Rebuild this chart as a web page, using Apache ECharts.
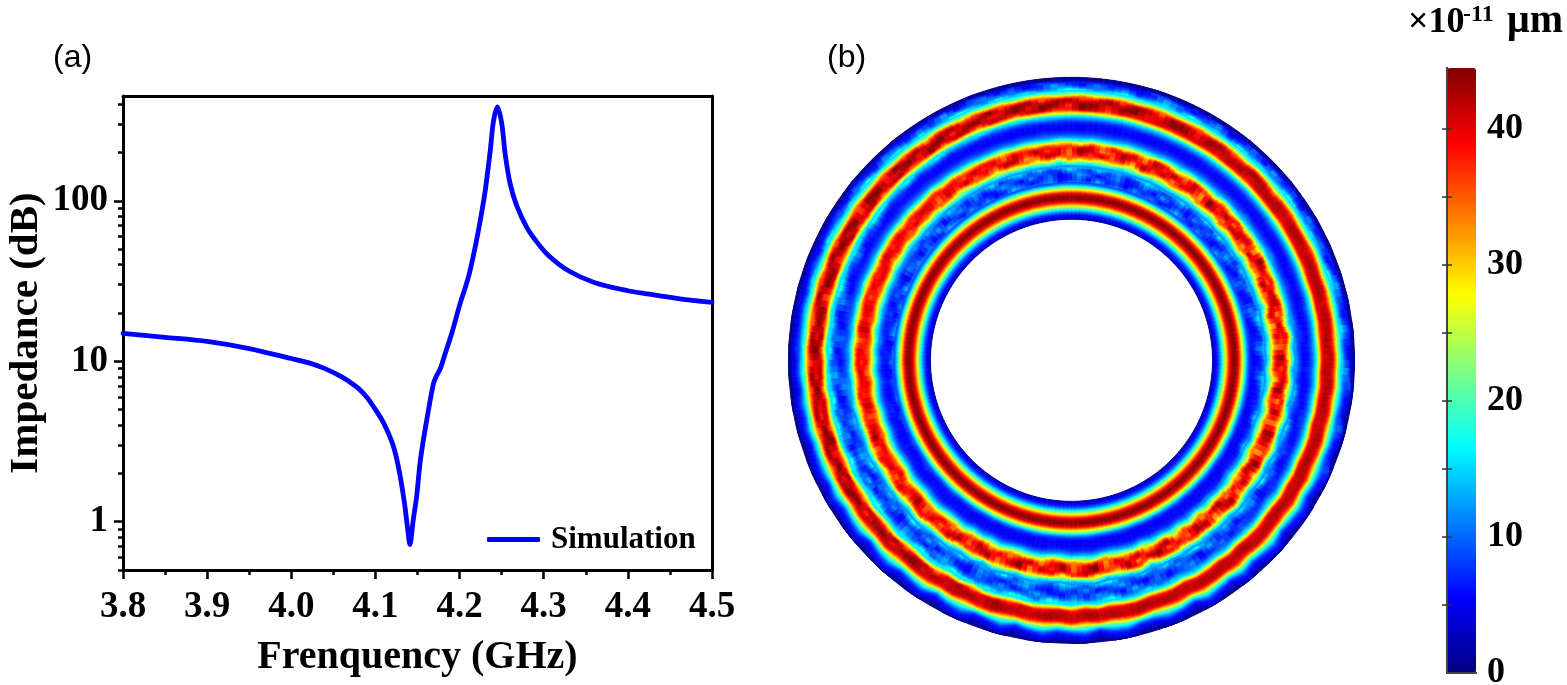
<!DOCTYPE html>
<html><head><meta charset="utf-8"><style>html,body{margin:0;padding:0;background:#fff}#c{width:1567px;height:685px}</style>
<script src="https://cdn.jsdelivr.net/npm/echarts@6/dist/echarts.min.js"></script></head>
<body><div id="c"></div><script>
// ---- panel (a): impedance curve
const frequency = [3.8,3.85,3.9,3.95,4.0,4.02,4.04,4.06,4.07,4.08,4.09,4.1,4.11,4.12,4.125,4.13,4.135,4.138,4.141,4.145,4.149,4.153,4.157,4.163,4.169,4.173,4.177,4.183,4.191,4.2005,4.2105,4.2185,4.2245,4.2304,4.2364,4.2403,4.2451,4.2503,4.2542,4.2602,4.268,4.28,4.29,4.305,4.33,4.36,4.4,4.4226,4.462,4.5];
const impedance = [14.9,14.1,13.3,12.0,10.4,9.8,9.0,8.0,7.4,6.75,5.95,5.0,4.1,3.1,2.5,1.85,1.25,0.93,0.72,1.03,1.44,2.32,3.23,4.96,7.26,8.2,8.95,11.2,15.1,22.8,33.4,51.4,75,115,204,314,385,299,195,127,93,68,57,46,36.5,31,27.5,26.3,24.5,23.3];
const yMajor = [1,10,100];
const yMinor = [0.5,0.6,0.7,0.8,0.9,2,3,4,5,6,7,8,9,20,30,40,50,60,70,80,90,200,300,400];
const xTicks = [3.8,3.9,4.0,4.1,4.2,4.3,4.4,4.5];
// ---- panel (b): displacement ring, radial profile from the inner edge outwards, one radius unit apart
const ringInner = 141;
const ringValue = [1.5,2.5,3.5,4.5,5.5,6.7,8,10,12,14.5,17,20,23,26,29,32,35,38,40,41.5,43,43.8,44.2,43.8,43,41.5,40,37.5,34,31,28,25,22,18.5,15,12.5,10,8.5,7,6.2,5.5,5.2,5,5,5,5.2,5.5,5.8,6,6.7,7.5,8.7,10,11.5,13,15,17,20,23,26,28.5,31,33.5,35.5,37,38,38.5,39,39,39,39,39,38.5,37.5,36,33.5,31,28,24.5,20.5,17,15,13,11.5,10,9,8,7.2,6.5,6,5.5,5.2,5,5.2,5.5,5.7,6,6.7,7.5,8.7,10,11.5,13,15,17,21.5,26,29,32,36,39,40,40.8,41.5,41.8,42,42,42,41.8,41.2,40.2,38.5,36,33,30,26,22,19.5,17,14.5,12,10,8,7,6,5.2,4.5,3.7,3,2.2,1.5,1,0.5];
// per-3-degree-sector readings, counter-clockwise from east
const midShift = [.6,-.6,.9,0,-.6,.6,-.3,.3,-.6,.3,.6,-.3,0,.6,-.3,.3,0,-.3,.3,.3,-.3,0,.3,-.3,0,.3,0,-.3,.3,0,0,.3,-.3,0,.3,-.3,.3,0,-.3,.3,0,.3,-.3,.3,0,-.3,.3,-.3,.3,.6,-.3,.3,-.6,.3,0,.6,-.3,.3,-.6,.6,
 -.6,.6,-.9,.3,.9,-.6,.3,-.6,.6,.9,-.6,-.9,.6,.3,-.9,.6,1.2,-.6,-.3,.9,-.9,.6,-.6,1.2,-.3,-.9,.6,.9,-.6,-1.2,.6,.3,1.2,-.6,-.9,.3,.9,-1.2,.6,-.3,.9,-.6,1.2,-.9,.3,-.6,.9,.6,-1.2,.3,.6,-.9,1.2,-.3,-.6,.9,-.6,.3,.6,-.9];
const outerShift = [.3,0,-.3,.3,0,.3,-.3,0,.3,0,0,.3,0,-.3,0,.3,0,0,0,.3,0,0,-.3,0,0,0,.3,0,0,0,0,-.3,0,0,0,.3,0,0,0,0,.3,0,-.3,0,0,.3,0,0,.3,-.3,0,.3,0,-.3,.3,0,.3,-.3,0,.3,
 -.3,.3,0,-.6,.3,.6,-.3,.3,-.6,.6,0,-.6,.6,.3,-.6,.9,-.3,-.6,.6,.9,-.6,.3,-.9,.6,.9,-.3,-.9,.6,.3,-.6,.9,-.6,.6,-.9,.3,.9,-.6,-.3,.6,-.9,.9,.3,-.6,.6,-.9,.3,.6,-.3,-.6,.9,-.3,.6,-.6,.3,.6,-.6,.3,-.3,.6,-.3];
const edgeShift = [1,0,1.5,-.5,1,0,.5,-.5,.5,0,.5,0,0,.5,0,0,0,.5,0,0,0,0,0,0,.5,0,0,0,0,0,0,0,0,0,0,0,0,.5,0,0,0,0,0,.5,0,0,0,.5,0,0,.5,0,0,.5,0,.5,0,.5,0,.5,
 0,1,-.5,1,0,1.5,-1,.5,1.5,-.5,2,-1,1,2.5,-1.5,1,3,-1,.5,2.5,-2,1.5,3,-1.5,0,3,-2,1,3,-1.5,.5,2.5,-2,2,3,-1,-1,2.5,1,-2,3,.5,-1.5,2.5,-1,1,3,-1.5,.5,2,-1,1.5,2,-1,1,1.5,-1,1,1.5,0];
const midGain = [3,-4.5,1.5,4.5,-3,-6,3,6,-4.5,1.5,-3,4.5,-1.5,3,-4.5,1.5,-1.5,3,-3,0,1.5,-3,1.5,3,-1.5,0,1.5,-1.5,3,0,-1.5,1.5,-3,1.5,0,3,-3,1.5,-1.5,3,0,-1.5,3,-3,1.5,4.5,-3,0,3,-4.5,1.5,-1.5,4.5,-3,3,-4.5,1.5,4.5,-4.5,1.5,
 4.5,-4.5,1.5,6,-6,3,-1.5,4.5,-4.5,1.5,6,-4.5,-1.5,4.5,-6,3,6,-4.5,1.5,-4.5,4.5,3,-6,1.5,4.5,-4.5,3,-1.5,6,-6,1.5,4.5,-4.5,3,-6,4.5,1.5,-3,6,-4.5,-1.5,4.5,-6,3,4.5,-4.5,1.5,6,-6,1.5,3,-4.5,4.5,-1.5,6,-6,3,-3,4.5,-1.5];
const outerGain = [1,-1,0,1,-1,1,0,-1,0,1,0,-1,1,0,0,-1,1,0,0,0,-1,1,0,0,0,1,-1,0,0,1,0,-1,0,1,0,0,-1,0,1,0,0,-1,1,0,0,-1,1,0,1,-1,0,1,-1,0,1,0,-1,1,0,-1,
 1.5,-3,1.5,3,-1.5,-3,3,1.5,-3,1.5,3,-4.5,1.5,3,-3,4.5,-1.5,-3,3,1.5,-4.5,3,1.5,-3,4.5,-1.5,-3,3,1.5,-4.5,3,-1.5,4.5,-3,1.5,3,-4.5,1.5,3,-3,4.5,-1.5,-3,4.5,-1.5,-4.5,3,1.5,-3,4.5,-3,1.5,3,-4.5,1.5,3,-3,1.5,3,-1.5];
const troughLift = [1.5,0,2,.5,0,1,0,.5,2,0,.5,0,1,0,.5,0,0,.5,0,0,.5,0,0,0,.5,0,0,0,0,0,0,.5,0,0,0,0,0,0,.5,0,0,0,0,0,.5,0,0,0,0,.5,0,0,.5,0,0,.5,0,0,1,.5,
 0,3,1.5,0,4.5,1.5,0,3,6,0,1.5,4.5,0,3,7.5,1.5,0,4.5,1.5,6,0,3,1.5,7.5,0,4.5,1.5,0,6,3,0,4.5,7.5,1.5,0,4.5,1.5,6,0,3,7.5,1.5,0,4.5,1.5,6,3,0,7.5,1.5,4.5,0,3,6,0,1.5,4.5,0,3,1.5];
const colorTicks = [5,10,15,20,25,30,35,40];
const colorLabels = [0,10,20,30,40];
const jetColors = ['#000080','#0000ff','#0080ff','#00ffff','#80ff80','#ffff00','#ff8000','#ff0000','#800000'];

const serif = '"Liberation Serif","Times New Roman",serif';
const sectorDeg = 3, sectorCount = 120, cellStep = 0.5, blotch = 5;
const at = (arr, k) => arr[((k % arr.length) + arr.length) % arr.length];
const pick = (arr, u) => { const f = Math.floor(u), t = u - f; return at(arr, f) * (1 - t) + at(arr, f + 1) * t; };
const ramp = (b, lo, hi) => Math.max(0, Math.min(1, (b - lo) / (hi - lo)));
function texture(arr, k, i) {
  const j = Math.floor(i / blotch), t = i / blotch - j;
  return pick(arr, k + 7 * j) * (1 - t) + pick(arr, k + 7 * (j + 1)) * t;
}
function boundaryShift(b, k) {
  const m = pick(midShift, k), o = pick(outerShift, k), e = pick(edgeShift, k);
  if (b < 197) return m * ramp(b, 172, 197);
  if (b < 247) return m + (o - m) * ramp(b, 222, 247);
  return o + (e - o) * ramp(b, 264, 274);
}
const RIN = ringInner, ROUT = ringInner + ringValue.length - 1;
const clampR = b => Math.max(RIN, Math.min(ROUT, b));
const ringCells = [];
for (let k = 0; k < sectorCount; k += cellStep) {
  ringValue.forEach((p, i) => {
    const r = RIN + i;
    const lo = i === 0 ? RIN : r - .5, hi = i === ringValue.length - 1 ? ROUT : r + .5;
    let v = p;
    if (r >= 197 && r <= 222) v *= 1 + texture(midGain, k, i) / 40;
    if (r >= 245 && r <= 268) v *= 1 + texture(outerGain, k, i) / 40;
    if ((r >= 179 && r <= 193) || (r >= 225 && r <= 243) || (r >= 271 && r <= 279)) v += texture(troughLift, k, i);
    ringCells.push([
      i === 0 ? RIN : clampR(lo + boundaryShift(lo, k)),
      i === ringValue.length - 1 ? ROUT : clampR(hi + boundaryShift(hi, k)),
      i === 0 ? RIN : clampR(lo + boundaryShift(lo, k + cellStep)),
      i === ringValue.length - 1 ? ROUT : clampR(hi + boundaryShift(hi, k + cellStep)),
      k * sectorDeg, v
    ]);
  });
}
const axisInk = { color:'#000', width:3 };
const option = {
  animation:false,
  backgroundColor:'#fff',
  grid:[
    {left:123,top:96,width:589,height:474,outerBoundsMode:'none'},
    {left:123,top:96,width:589,height:474,outerBoundsMode:'none'},
    {left:1447,top:68,width:29,height:605,outerBoundsMode:'none'}
  ],
  legend:{data:['Simulation'],left:482,top:519,itemWidth:53,itemHeight:5,icon:'roundRect',
    textStyle:{fontFamily:serif,fontWeight:'bold',fontSize:31,color:'#000',padding:[0,0,0,6]}},
  polar:{center:[1071.5,360.3],radius:[0,283]},
  radiusAxis:{polarIndex:0,min:0,max:283,show:false},
  angleAxis:{polarIndex:0,min:0,max:360,startAngle:0,clockwise:false,show:false},
  visualMap:{type:'continuous',seriesIndex:1,dimension:5,min:0,max:44.5,left:1447,top:68,itemWidth:29,itemHeight:605,
    calculable:false,realtime:false,hoverLink:false,text:['',''],showLabel:false,padding:0,z:1,inRange:{color:jetColors}},
  xAxis:[
    {gridIndex:0,type:'value',min:3.8,max:4.5,interval:0.1,position:'bottom',
     name:'Frenquency (GHz)',nameLocation:'middle',nameGap:68,nameTextStyle:{fontFamily:serif,fontWeight:'bold',fontSize:40,color:'#000'},
     axisLine:{lineStyle:axisInk},axisTick:{length:9,lineStyle:{color:'#000',width:2.5}},
     minorTick:{show:true,splitNumber:2,length:5,lineStyle:{color:'#000',width:2.5}},splitLine:{show:false},minorSplitLine:{show:false},
     axisLabel:{customValues:xTicks,margin:19,fontFamily:serif,fontWeight:'bold',fontSize:37,color:'#000',formatter:v=>v.toFixed(1),hideOverlap:false}},
    {gridIndex:0,type:'value',min:3.8,max:4.5,position:'top',axisLine:{lineStyle:axisInk},axisTick:{show:false},axisLabel:{show:false},splitLine:{show:false}},
    {gridIndex:1,type:'value',min:0,max:1,show:false},
    {gridIndex:2,type:'value',min:0,max:1,position:'bottom',z:5,axisLine:{lineStyle:{color:'#444',width:2}},axisTick:{show:false},axisLabel:{show:false},splitLine:{show:false}},
    {gridIndex:2,type:'value',min:0,max:1,position:'top',z:5,axisLine:{lineStyle:{color:'#444',width:2}},axisTick:{show:false},axisLabel:{show:false},splitLine:{show:false}}
  ],
  yAxis:[
    {gridIndex:0,type:'log',min:0.5,max:450,position:'left',
     name:'Impedance (dB)',nameLocation:'middle',nameGap:76,nameTextStyle:{fontFamily:serif,fontWeight:'bold',fontSize:41,color:'#000'},
     axisLine:{lineStyle:axisInk},axisTick:{customValues:yMajor,length:9,lineStyle:{color:'#000',width:2.5}},splitLine:{show:false},minorSplitLine:{show:false},
     axisLabel:{customValues:yMajor,margin:15,fontFamily:serif,fontWeight:'bold',fontSize:37,color:'#000',formatter:v=>String(Math.round(v))}},
    {gridIndex:0,type:'log',min:0.5,max:450,position:'right',axisLine:{lineStyle:axisInk},axisTick:{show:false},axisLabel:{show:false},splitLine:{show:false}},
    {gridIndex:1,type:'log',min:0.5,max:450,position:'left',axisLine:{show:false},axisTick:{customValues:yMinor,length:5,lineStyle:{color:'#000',width:2.5}},axisLabel:{show:false},splitLine:{show:false},minorSplitLine:{show:false}},
    {gridIndex:2,type:'value',min:0,max:44.5,position:'left',z:5,axisLine:{lineStyle:{color:'#444',width:2}},
     axisTick:{customValues:colorTicks,inside:true,length:5,lineStyle:{color:'#333',width:1.5}},axisLabel:{show:false},splitLine:{show:false}},
    {gridIndex:2,type:'value',min:0,max:44.5,position:'right',z:5,axisLine:{lineStyle:{color:'#444',width:2}},
     axisTick:{customValues:colorTicks,inside:true,length:5,lineStyle:{color:'#333',width:1.5}},splitLine:{show:false},
     axisLabel:{customValues:colorLabels,margin:11,fontFamily:serif,fontWeight:'bold',fontSize:36,color:'#000',hideOverlap:false,showMinLabel:true,verticalAlignMinLabel:'middle',verticalAlignMaxLabel:'middle'}}
  ],
  series:[
    {name:'Simulation',type:'line',xAxisIndex:0,yAxisIndex:0,data:frequency.map((f,i)=>[f,impedance[i]]),
     symbol:'none',smooth:0.3,lineStyle:{color:'#0000ff',width:4.8,cap:'round',join:'round'},itemStyle:{color:'#0000ff'}},
    {name:'Displacement',type:'custom',coordinateSystem:'polar',polarIndex:0,data:ringCells,silent:true,progressive:0,
     encode:{radius:0,angle:4},clip:false,
     renderItem(params,api){
       const a0=api.value(4), a1=a0+sectorDeg*cellStep;
       const c=(r,a)=>{const p=api.coord([r,a]);return [p[0],p[1]];};
       const col=api.visual('color');
       return {type:'polygon',shape:{points:[c(api.value(0),a0),c(api.value(1),a0),c(api.value(3),a1),c(api.value(2),a1)]},
         style:{fill:col,stroke:col,lineWidth:0.7}};
     }}
  ],
  graphic:[
    {type:'text',left:53,top:42,style:{text:'(a)',font:'32px "Liberation Sans",Arial,sans-serif',fill:'#000'}},
    {type:'text',left:827,top:42,style:{text:'(b)',font:'32px "Liberation Sans",Arial,sans-serif',fill:'#000'}},
    {type:'text',left:1408,top:5,style:{text:'×10',font:'bold 36px '+serif,fill:'#000'}},
    {type:'text',left:1463,top:3,style:{text:'-11',font:'bold 24px '+serif,fill:'#000'}},
    {type:'text',left:1507,top:2,style:{text:'μm',font:'bold 40px '+serif,fill:'#000'}}
  ]
};
echarts.init(document.getElementById('c'),null,{renderer:'canvas'}).setOption(option);
</script></body></html>
